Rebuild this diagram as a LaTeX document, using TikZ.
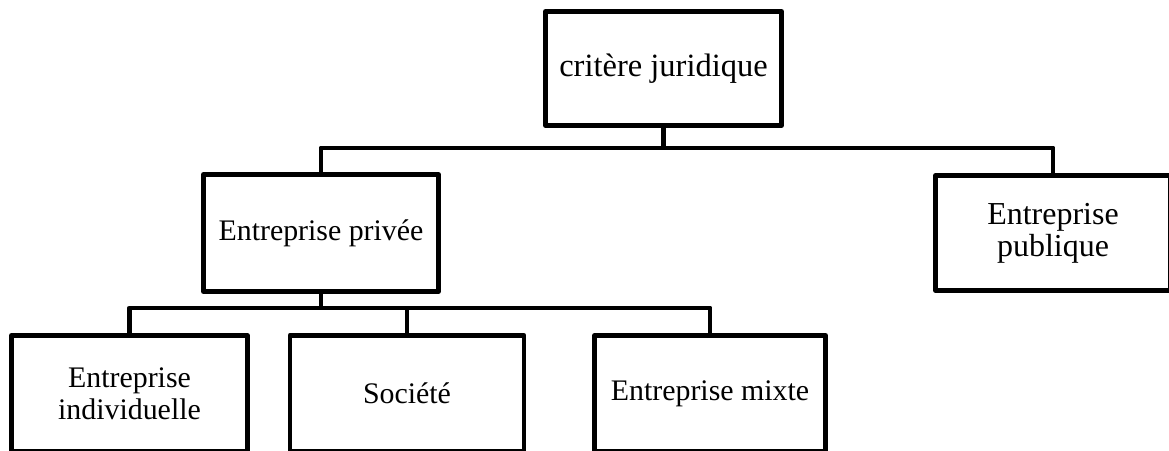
\documentclass[tikz,border=0pt]{standalone}
\usepackage{fontspec}
\setmainfont{Liberation Serif}

\begin{document}
\begin{tikzpicture}[x=0.02cm,y=-0.02cm,line width=2.8pt,line join=round,
orgbox/.style={draw,rectangle,inner sep=2pt,minimum width=4.7cm,minimum height=2.32cm,align=center,font=\fontsize{17}{18.2}\selectfont}]

\clip (0,0) rectangle (1169,450);

\node[orgbox,minimum width=4.72cm,minimum height=2.28cm,font=\fontsize{18.5}{19.5}\selectfont] (crit) at (663.5,68.5) {critère juridique};
\node[orgbox,minimum height=2.34cm] (priv) at (321,233) {Entreprise privée};
\node[orgbox,minimum height=2.3cm,font=\fontsize{18.2}{18.2}\selectfont] (pub) at (1053,233) {Entreprise\\publique};

\node[orgbox,minimum width=4.72cm] (indiv) at (129.5,393.5) {Entreprise\\individuelle};
\node[orgbox,minimum width=4.68cm] (soc) at (407,393.5) {Société};
\node[orgbox,minimum width=4.62cm] (mixte) at (710,393.5) {Entreprise mixte};

\coordinate (bus1) at (663.5,148);
\coordinate (bus2) at (321,308);

\draw (crit.south) -- (bus1);
\draw (priv.north) |- (bus1) -| (pub.north);
\draw (priv.south) -- (bus2);
\draw (indiv.north) |- (bus2) -| (mixte.north);
\draw (soc.north) -- (soc.north |- bus2);
\end{tikzpicture}
\end{document}
